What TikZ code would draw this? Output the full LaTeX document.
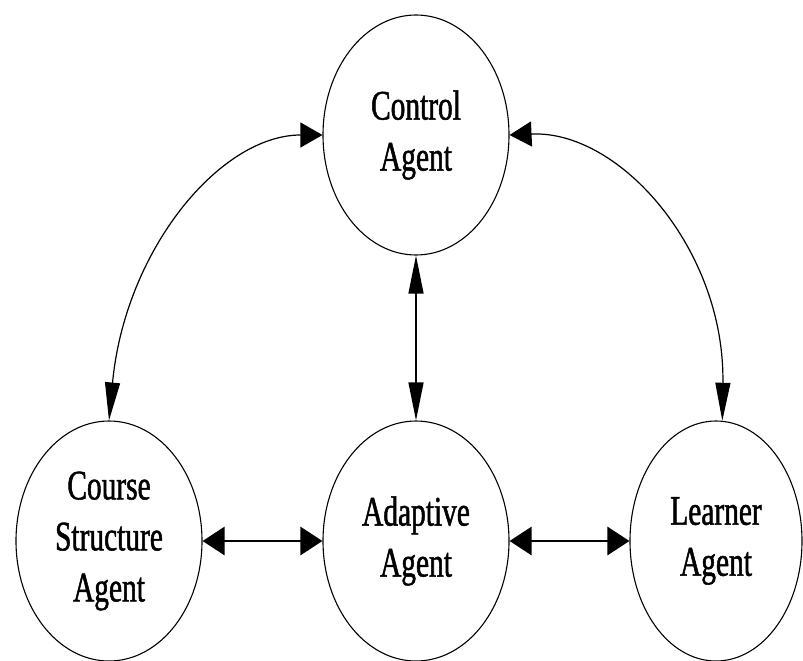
\documentclass[tikz,border=0pt]{standalone}
\usepackage{fontspec}
\newfontfamily\agentfont[FakeStretch=0.7, FakeBold=1.2]{Liberation Serif}
\usetikzlibrary{shapes.geometric,arrows.meta}

\tikzset{
  agent/.style={draw=black, line width=1.1pt, ellipse, inner sep=0pt,
    minimum width=186pt, minimum height=240pt, align=center,
    font=\agentfont\fontsize{42}{51}\selectfont},
  thinlink/.style={draw=black, line width=1.2pt},
  thicklink/.style={draw=black, line width=2.8pt,
    {Triangle[length=22pt, width=28pt]}-{Triangle[length=22pt, width=28pt]}},
}

\begin{document}
\begin{tikzpicture}[x=1pt, y=-1pt]
  \useasboundingbox (0,0) rectangle (803,661);

  % agents
  \node[agent] (control) at (416,135) {Control\\Agent};
  \node[agent] (course)  at (109,541) {Course\\Structure\\Agent};
  \node[agent] (adaptive) at (416,541) {Adaptive\\Agent};
  \node[agent, minimum width=172pt] (learner) at (716,541) {Learner\\Agent};

  % control links
  \draw[thinlink, {Triangle[length=38pt, width=15pt]}-{Triangle[length=22pt, width=25pt]}]
    (course.north) .. controls (125,250) and (220,135) .. (control.west);
  \draw[thinlink, {Triangle[length=22pt, width=25pt]}-{Triangle[length=38pt, width=15pt]}]
    (control.east) .. controls (620,130) and (725,250) .. (learner.87);
  \draw[thinlink, {Triangle[length=38pt, width=15pt]}-{Triangle[length=38pt, width=15pt]}]
    (control.south) -- (adaptive.north);

  % peer links
  \draw[thicklink] (course.east) -- (adaptive.west);
  \draw[thicklink] (adaptive.east) -- (learner.west);
\end{tikzpicture}
\end{document}
